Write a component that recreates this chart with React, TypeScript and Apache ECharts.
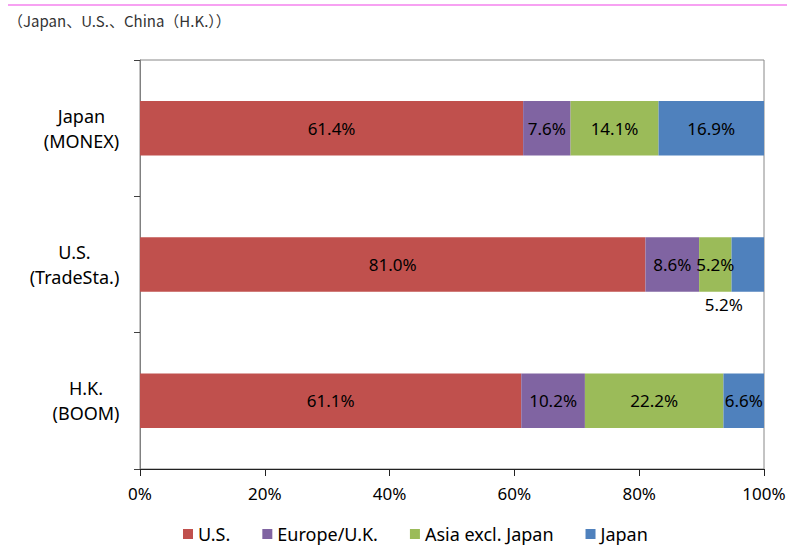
import React, { useEffect, useRef } from "react";
import * as echarts from "echarts";

const categories = ["Japan\n(MONEX)", "U.S.\n(TradeSta.)", "H.K.\n(BOOM)"];
const seriesNames = ["U.S.", "Europe/U.K.", "Asia excl. Japan", "Japan"];
const usValues = [61.4, 81.0, 61.1];
const europeValues = [7.6, 8.6, 10.2];
const asiaValues = [14.1, 5.2, 22.2];
const japanValues = [16.9, 5.2, 6.6];
const xTicks = [0, 20, 40, 60, 80, 100];
const colors = ["#C0504D", "#8064A2", "#9BBB59", "#4F81BD"];
const subtitle = "（Japan、U.S.、China（H.K.））";

const FONT = "'Noto Sans', sans-serif";

export default function App() {
  const ref = useRef<HTMLDivElement>(null);
  useEffect(() => {
    if (!ref.current) return;
    const chart = echarts.init(ref.current, null, { renderer: "svg" });

    const canvas = document.createElement("canvas");
    const ctx = canvas.getContext("2d")!;
    ctx.font = "18px 'Noto Sans'";
    const rich: any = {};
    categories.forEach((c, i) => {
      const w = Math.max(...c.split("\n").map((l) => ctx.measureText(l).width));
      rich["c" + i] = {
        width: Math.ceil(w) + 1,
        align: "center",
        fontSize: 18,
        fontFamily: FONT,
        color: "#000",
        lineHeight: 25,
      };
    });

    const allValues = [usValues, europeValues, asiaValues, japanValues];
    const series = allValues.map((vals, si) => ({
      name: seriesNames[si],
      type: "bar",
      stack: "total",
      barWidth: "40%",
      itemStyle: { color: colors[si] },
      label: {
        show: true,
        position: "inside",
        formatter: (p: any) => p.value.toFixed(1) + "%",
        color: "#000",
        fontSize: 17,
        fontFamily: FONT,
      },
      data: vals.map((v, ci) =>
        si === 3 && ci === 1
          ? { value: v, label: { position: "bottom", distance: 4, offset: [-24, 0] } }
          : v
      ),
    }));

    chart.setOption({
      animation: false,
      backgroundColor: "#fff",
      graphic: [
        {
          type: "line",
          shape: { x1: 8, y1: 5, x2: 787, y2: 5 },
          style: { stroke: "#F7A1F2", lineWidth: 2 },
        },
        {
          type: "text",
          x: 8,
          y: 13,
          style: {
            text: subtitle,
            fontSize: 15,
            fontFamily: "'Noto Sans CJK JP', sans-serif",
            fill: "#333",
          },
        },
      ],
      grid: {
        left: 140,
        right: 23,
        top: 60,
        bottom: 80,
        show: true,
        borderColor: "#888",
        borderWidth: 1,
        outerBoundsMode: "none",
        containLabel: false,
      },
      legend: {
        top: 522,
        left: 178,
        padding: [3, 5],
        data: seriesNames,
        icon: "rect",
        itemWidth: 10,
        itemHeight: 10,
        itemGap: 32,
        textStyle: { fontSize: 18, fontFamily: FONT, color: "#000" },
      },
      xAxis: {
        type: "value",
        min: 0,
        max: 100,
        interval: 20,
        axisLine: { show: true, lineStyle: { color: "#222" } },
        axisTick: { show: true, length: 7, lineStyle: { color: "#222" } },
        splitLine: { show: false },
        axisLabel: {
          formatter: (v: number) => (xTicks.includes(v) ? v + "%" : ""),
          color: "#000",
          fontSize: 17,
          fontFamily: FONT,
          margin: 16,
        },
      },
      yAxis: {
        type: "category",
        inverse: true,
        data: categories,
        axisLine: { show: true, lineStyle: { color: "#808080" } },
        axisTick: { show: true, length: 6, lineStyle: { color: "#404040" } },
        axisLabel: {
          margin: 20,
          formatter: (v: string) => {
            const i = categories.indexOf(v);
            return v
              .split("\n")
              .map((l) => `{c${i}|${l}}`)
              .join("\n");
          },
          rich,
        },
      },
      series,
    });
    return () => chart.dispose();
  }, []);
  return (
    <div
      ref={ref}
      style={{ position: "fixed", left: 0, top: 0, width: 787, height: 549 }}
    />
  );
}
